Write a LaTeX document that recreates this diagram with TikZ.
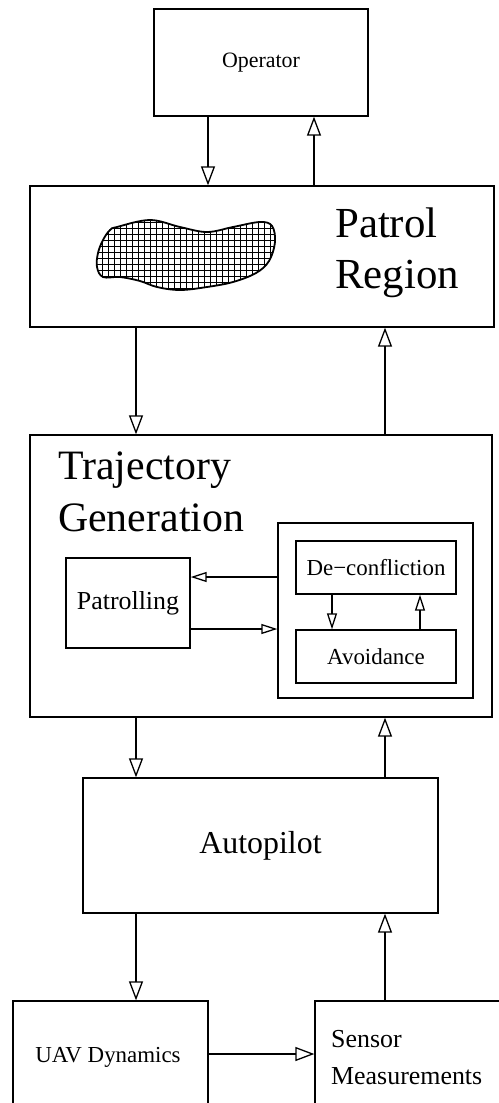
\documentclass[tikz,border=0pt]{standalone}
\usepackage{fontspec}
\setmainfont{Liberation Serif}
\usetikzlibrary{arrows.meta}
\newcommand{\fs}[1]{\fontsize{#1}{#1}\selectfont}
\begin{document}
\begin{tikzpicture}[x=1bp,y=-1bp,
  box/.style={draw, line width=1.3bp, inner sep=0pt},
  lbl/.style={inner sep=0pt},
  arr/.style={draw, line width=1.3bp, -{Triangle[open, length=19bp, width=14bp]}},
  sarr/.style={draw, line width=1.3bp, -{Triangle[open, length=16bp, width=10bp]}}]
\useasboundingbox (0,0) rectangle (499,1103);
\fill[white] (0,0) rectangle (499,1103);
\clip (0,0) rectangle (499,1103);

% boxes
\node[box, minimum width=214bp, minimum height=107bp] (op) at (261,62.5) {\fs{22}Operator};
\node[box, minimum width=464bp, minimum height=141bp] (patrol) at (262,256.5) {};
\node[box, minimum width=462bp, minimum height=282bp] (traj) at (261,576) {};
\node[box, minimum width=195bp, minimum height=175bp] (grp) at (375.5,610.5) {};
\node[box, minimum width=160bp, minimum height=53bp] (dec) at (376,567.5) {\fs{23}De−confliction};
\node[box, minimum width=160bp, minimum height=53bp] (avo) at (376,656.5) {\fs{23}Avoidance};
\node[box, minimum width=124bp, minimum height=90bp] (pat) at (128,603) {\fs{26}Patrolling};
\node[box, minimum width=355bp, minimum height=135bp] (auto) at (260.5,845.5) {\fs{32}Autopilot};
\node[box, minimum width=195bp, minimum height=109bp] (uav) at (110.5,1055.5) {};
\node[box, minimum width=190bp, minimum height=109bp] (sens) at (410,1055.5) {};

% labels
\node[lbl, anchor=base west] (lpatrol) at (335,237) {\fs{43}Patrol};
\node[lbl, anchor=base west] (lregion) at (335,288) {\fs{43}Region};
\node[lbl, anchor=base west] (ltraj) at (58,479) {\fs{42}Trajectory};
\node[lbl, anchor=base west] (lgen) at (58,531) {\fs{42}Generation};
\node[lbl] (luav) at (108,1057) {\fs{23}UAV Dynamics};
\node[lbl, anchor=base west] (lsensor) at (331,1047) {\fs{26}Sensor};
\node[lbl, anchor=base west] (lmeas) at (331,1084) {\fs{26}Measurements};

% patrol region blob
\def\blob{(117,227) (150,220) (180,227) (207,232) (233,227) (260,222) (272,226) (275,242) (269,261) (256,273) (233,282) (207,287) (180,290) (157,287) (140,281) (120,277) (103,277) (97,267) (98,253) (103,240) (110,230)}
\begin{scope}
  \clip plot[smooth cycle, tension=0.6] coordinates {\blob};
  \draw[line width=1bp, step=6bp] (84,210) grid (288,300);
\end{scope}
\draw[line width=1.8bp] plot[smooth cycle, tension=0.6] coordinates {\blob};

% column coordinates
\coordinate (c136) at (136,0);
\coordinate (c208) at (208,0);
\coordinate (c314) at (314,0);
\coordinate (c385) at (385,0);
\coordinate (c332) at (332,0);
\coordinate (c420) at (420,0);
\coordinate (r577) at (0,577);
\coordinate (r629) at (0,629);
\coordinate (r1054) at (0,1054);

% connectors
\draw[arr] (op.south -| c208) -- (patrol.north -| c208);
\draw[arr] (patrol.north -| c314) -- (op.south -| c314);
\draw[arr] (patrol.south -| c136) -- (traj.north -| c136);
\draw[arr] (traj.north -| c385) -- (patrol.south -| c385);
\draw[sarr] (grp.west |- r577) -- (pat.east |- r577);
\draw[sarr] (pat.east |- r629) -- (grp.west |- r629);
\draw[sarr] (dec.south -| c332) -- (avo.north -| c332);
\draw[sarr] (avo.north -| c420) -- (dec.south -| c420);
\draw[arr] (traj.south -| c136) -- (auto.north -| c136);
\draw[arr] (auto.north -| c385) -- (traj.south -| c385);
\draw[arr] (auto.south -| c136) -- (uav.north -| c136);
\draw[arr] (sens.north -| c385) -- (auto.south -| c385);
\draw[arr] (uav.east |- r1054) -- (sens.west |- r1054);
\end{tikzpicture}
\end{document}
